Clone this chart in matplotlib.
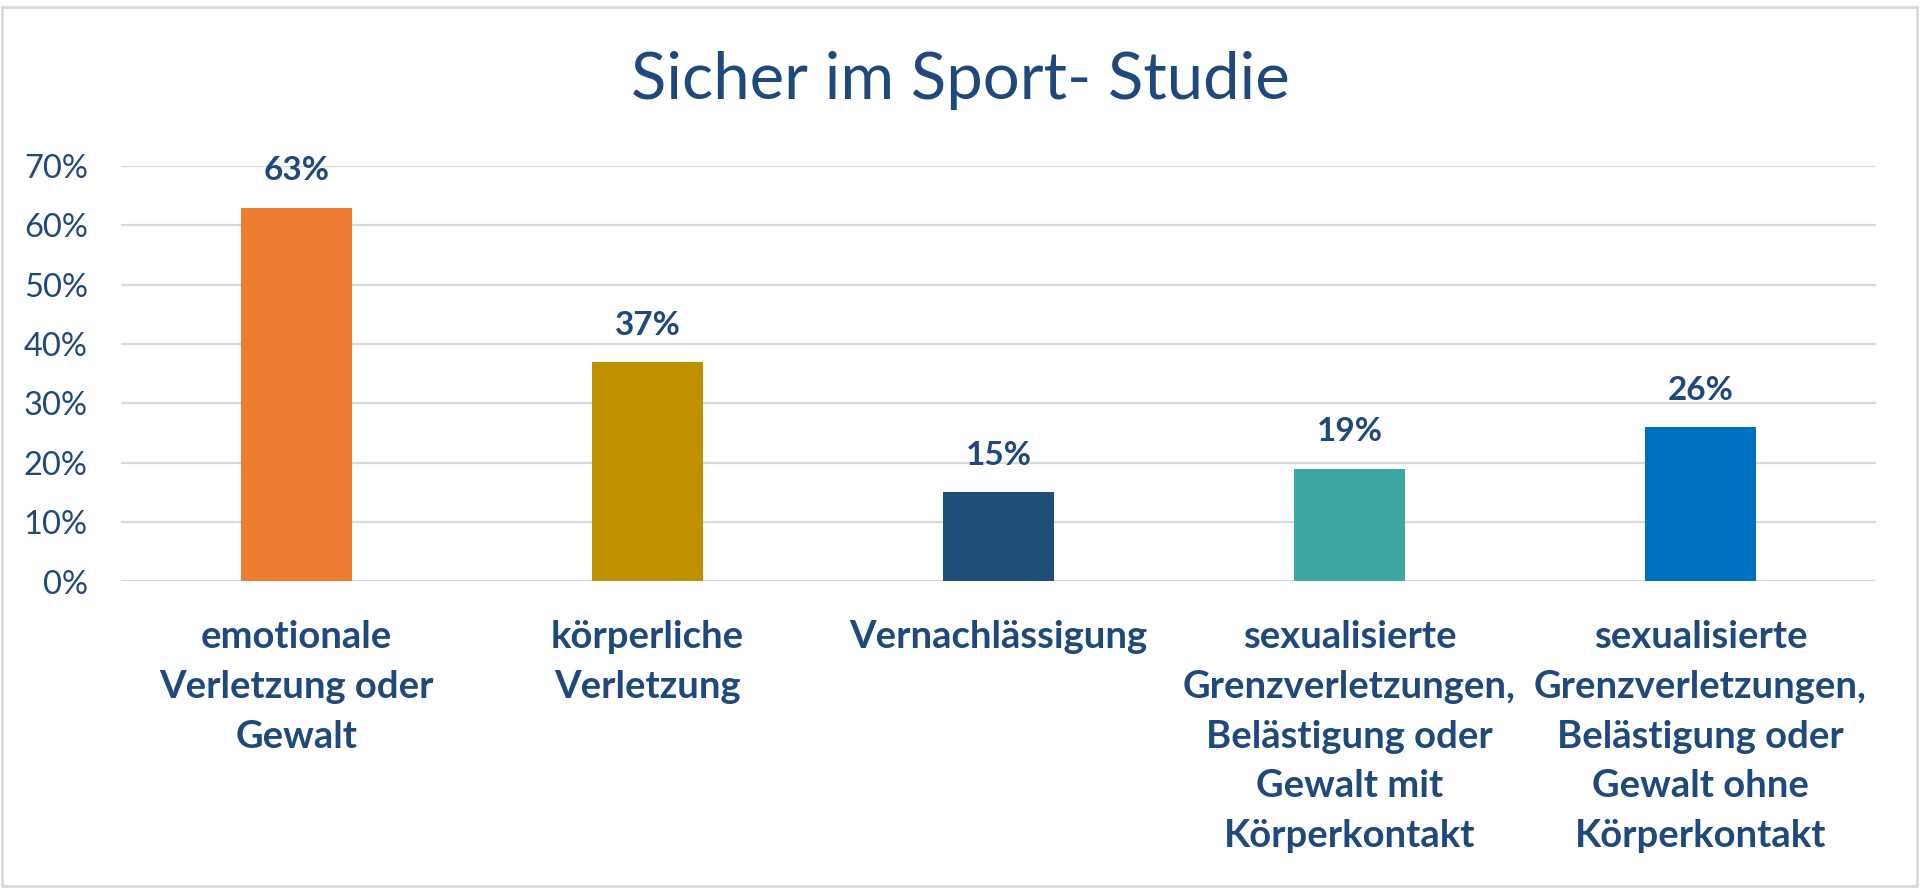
import matplotlib
matplotlib.use("Agg")
import matplotlib.pyplot as plt
from matplotlib.patches import Rectangle

plt.rcParams['font.family'] = ['Lato', 'DejaVu Sans']

# data
categories = [
    "emotionale\nVerletzung oder\nGewalt",
    "körperliche\nVerletzung",
    "Vernachlässigung",
    "sexualisierte\nGrenzverletzungen,\nBelästigung oder\nGewalt mit\nKörperkontakt",
    "sexualisierte\nGrenzverletzungen,\nBelästigung oder\nGewalt ohne\nKörperkontakt",
]
values = [0.63, 0.37, 0.15, 0.19, 0.26]
bar_colors = ["#ED7D31", "#BF9000", "#1F4E79", "#3FA7A1", "#0070C0"]
yticks = [0.0, 0.1, 0.2, 0.3, 0.4, 0.5, 0.6, 0.7]
title = "Sicher im Sport- Studie"

text_col = "#1F497D"
grid_col = "#D9D9D9"

fig = plt.figure(figsize=(19.2, 8.88), dpi=100)
ax = fig.add_axes([121 / 1920, 1 - 581.5 / 888, (1876 - 121) / 1920, (581.5 - 166) / 888])

x = range(len(categories))
bars = ax.bar(x, values, width=0.316, color=bar_colors, zorder=3)

ax.set_xlim(-0.5, len(categories) - 0.5)
ax.set_ylim(0, 0.7)
ax.set_yticks(yticks)
ax.set_yticklabels([f"{int(round(t * 100))}%" for t in yticks])
ax.set_xticks(list(x))
ax.set_xticklabels(categories, fontweight="bold", linespacing=1.56)

ax.tick_params(axis="y", length=0, pad=24, labelsize=23.5, labelcolor=text_col)
ax.tick_params(axis="x", length=0, pad=28, labelsize=27.5, labelcolor=text_col)

ax.grid(axis="y", color=grid_col, linewidth=1.6, zorder=0)
for s in ax.spines.values():
    s.set_visible(False)

ax.bar_label(bars, labels=[f"{int(round(v * 100))}%" for v in values],
             padding=16, fontsize=24, fontweight="bold", color=text_col)

fig.text(0.5, 1 - 99 / 888, title, ha="center", va="baseline",
         fontsize=47, color=text_col)

# light border around the chart area
fig.patches.append(Rectangle((2 / 1920, 2 / 888), 1 - 5 / 1920, 1 - 9 / 888,
                             transform=fig.transFigure, fill=False,
                             edgecolor=grid_col, linewidth=2))

fig.savefig("out.png", dpi=100, facecolor="white")
